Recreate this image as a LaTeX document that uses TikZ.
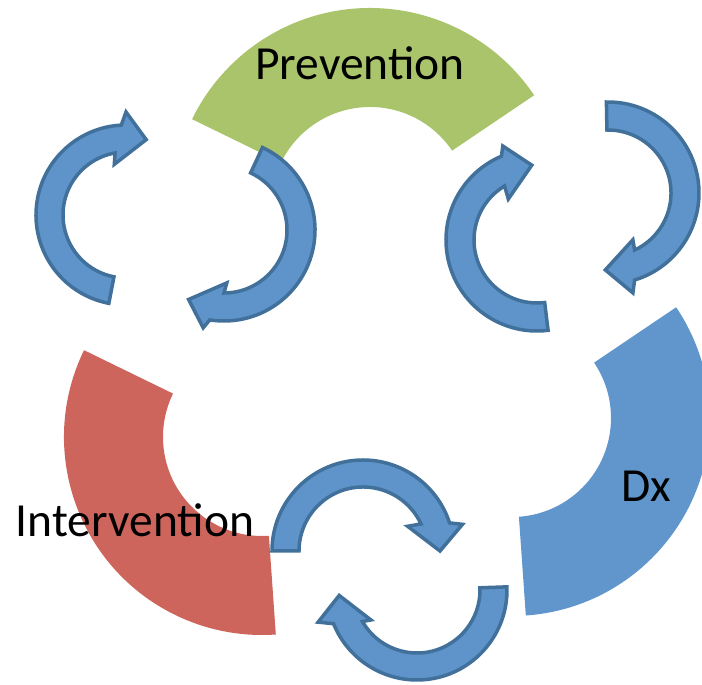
\documentclass[tikz,border=0pt]{standalone}
\usepackage{fontspec}
\setmainfont{Carlito}
\usepackage{xcolor}
\usepackage{tikz}

\definecolor{prevgreen}{RGB}{170,196,107}
\definecolor{intred}{RGB}{205,101,93}
\definecolor{dxblue}{RGB}{96,150,203}
\definecolor{arrowfill}{RGB}{94,148,202}
\definecolor{arrowline}{RGB}{65,112,155}

\tikzset{
    cyclearrow/.style={fill=arrowfill, draw=arrowline, line width=3.5pt, line join=miter},
    biglabel/.style={anchor=base, inner sep=0pt, font=\fontsize{47.5}{57}\selectfont}
}

\begin{document}
\begin{tikzpicture}[x=1pt, y=1pt]
                \path[use as bounding box] (0,0) rectangle (702,685);
                \clip (0,0) rectangle (702,685);

                %% sectors
                %Prevention
                \fill[prevgreen, shift={(370,479)}] (34:198) arc[start angle=34, end angle=154, radius=198]
                    -- (154:99) arc[start angle=154, end angle=34, radius=99] -- cycle;
                %Intervention
                \fill[intred, shift={(262,248)}] (154:198) arc[start angle=154, end angle=274, radius=198]
                    -- (274:99) arc[start angle=274, end angle=154, radius=99] -- cycle;
                %Dx
                \fill[dxblue, shift={(512,267)}] (-86:198) arc[start angle=-86, end angle=34, radius=198]
                    -- (34:99) arc[start angle=34, end angle=-86, radius=99] -- cycle;

                %% arrows, left pair
                \draw[cyclearrow, shift={(126,470)}] (259:90) arc[start angle=259, end angle=93, radius=90]
                    -- (90:103) -- (75:78) -- (103:52) -- (100:63) arc[start angle=100, end angle=259, radius=63] -- cycle;
                \draw[cyclearrow, shift={(224,455)}] (65:91) arc[start angle=65, end angle=-99, radius=91]
                    -- (-102:100) -- (-117:78) -- (-87:53) -- (-90:63) arc[start angle=-90, end angle=65, radius=63] -- cycle;

                %% arrows, right pair
                \draw[cyclearrow, shift={(537,445)}] (277:91) arc[start angle=277, end angle=113, radius=91]
                    -- (110:100) -- (94:75) -- (125:50) -- (121:63) arc[start angle=121, end angle=277, radius=63] -- cycle;
                \draw[cyclearrow, shift={(608,492)}] (91:91) arc[start angle=91, end angle=-73, radius=91]
                    -- (-76:103) -- (-92:77) -- (-62:53) -- (-65:63) arc[start angle=-65, end angle=91, radius=63] -- cycle;

                %% arrows, bottom pair
                \draw[cyclearrow, shift={(363,134)}] (180:91) arc[start angle=180, end angle=18, radius=91]
                    -- (15:103) -- (0:77) -- (29:51) -- (25:64) arc[start angle=25, end angle=180, radius=64] -- cycle;
                \draw[cyclearrow, shift={(417,95)}] (2:90) arc[start angle=2, end angle=-158, radius=90]
                    -- (-162:104) -- (-176:78) -- (-147:55) -- (-150:63) arc[start angle=-150, end angle=2, radius=63] -- cycle;

                %% labels
                \node[biglabel] (prevention) at (360,605.5) {Prevention};
                \node[biglabel] (intervention) at (135,148) {Intervention};
                \node[biglabel] (dx) at (646,183) {Dx};

\end{tikzpicture}
\end{document}
